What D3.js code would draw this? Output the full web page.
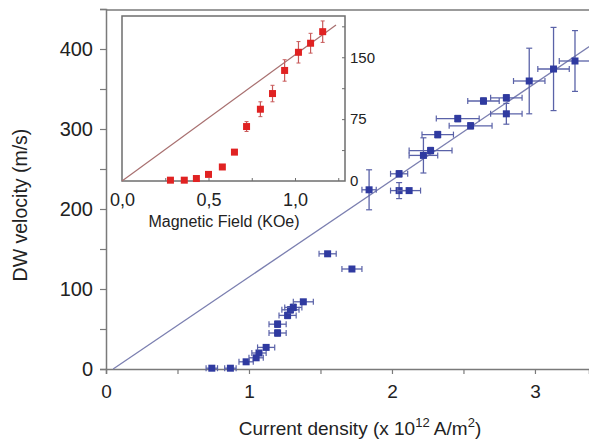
<!DOCTYPE html>
<html>
<head>
<meta charset="utf-8">
<script src="https://cdn.jsdelivr.net/npm/d3@7"></script>
<style>
  body { margin: 0; background: #fff; }
  svg { display: block; font-family: "Liberation Sans", Arial, sans-serif; }
  .tick text { fill: #222; }
</style>
</head>
<body>
<svg id="chart" width="589" height="440"></svg>
<script>
// main data: current density (x1e12 A/m2), velocity (m/s), errors
const mainJ    = [0.74, 0.87, 0.98, 1.05, 1.07, 1.12, 1.20, 1.20, 1.27, 1.29, 1.31, 1.38, 1.55, 1.72,
                  1.84, 2.05, 2.12, 2.05, 2.22, 2.27, 2.32, 2.46, 2.55, 2.64, 2.80, 2.80, 2.96, 3.13, 3.28];
const mainV    = [1, 1, 9, 14, 20, 27, 45, 56, 67, 74, 77, 84, 144, 125,
                  224, 223, 223, 244, 267, 273, 293, 313, 304, 335, 339, 319, 360, 375, 385];
const mainJErr = [0.04, 0.04, 0.05, 0.05, 0.05, 0.06, 0.06, 0.06, 0.06, 0.06, 0.06, 0.07, 0.06, 0.07,
                  0.05, 0.06, 0.08, 0.06, 0.10, 0.15, 0.11, 0.15, 0.15, 0.11, 0.11, 0.11, 0.11, 0.11, 0.11];
const mainVErr = [1, 1, 2, 3, 3, 3, 4, 4, 4, 4, 4, 3, 3, 3,
                  25, 10, 3, 4, 22, 4, 4, 4, 4, 4, 4, 13, 41, 52, 38];
const mainFit  = [[0.05, 0], [3.38, 403]];

// inset data: magnetic field (KOe), velocity (m/s)
const insetB    = [0.28, 0.36, 0.43, 0.50, 0.58, 0.65, 0.72, 0.80, 0.87, 0.94, 1.02, 1.09, 1.16];
const insetV    = [1, 1, 3, 8, 17, 35, 66, 87, 106, 134, 156, 167, 181];
const insetVErr = [0, 0, 0, 0, 0, 0, 6, 9, 10, 13, 13, 12, 13];
const insetFit  = [[0, 0], [1.237, 189]];

const xTicks = [0, 1, 2, 3];
const yTicks = [0, 100, 200, 300, 400];
const insetXTicks = [0, 0.5, 1.0];
const insetYTicks = [0, 75, 150];

const svg = d3.select('#chart');
const axisColor = '#7a7a7a';
const font = 'Liberation Sans, Arial';

const x = d3.scaleLinear().domain([0, 3.378]).range([106, 589]);
const y = d3.scaleLinear().domain([0, 450]).range([369, 9]);

// frame: top border
svg.append('line').attr('x1', 106).attr('x2', 589).attr('y1', 10).attr('y2', 10)
  .attr('stroke', axisColor).attr('stroke-width', 1.5);

// axes lines and ticks (major + minor)
const gx = svg.append('g').attr('transform', 'translate(0,369)')
  .call(d3.axisBottom(x).tickValues(d3.range(0, 3.4, 0.5)).tickSize(5).tickFormat(''));
const gy = svg.append('g').attr('transform', 'translate(106,0)')
  .call(d3.axisLeft(y).tickValues(d3.range(0, 451, 50)).tickSize(6).tickFormat(''));
[gx, gy].forEach(g => {
  g.select('.domain').attr('stroke', axisColor).attr('stroke-width', 1.5);
  g.selectAll('.tick line').attr('stroke', axisColor).attr('stroke-width', 1.2);
});

svg.append('g').attr('transform', 'translate(0,369)')
  .call(d3.axisBottom(x).tickValues(xTicks).tickSize(0).tickPadding(16).tickFormat(d3.format('d')))
  .call(g => g.select('.domain').remove())
  .selectAll('text').attr('font-size', 19).attr('font-family', font);

svg.append('g').attr('transform', 'translate(106,0)')
  .call(d3.axisLeft(y).tickValues(yTicks).tickSize(0).tickPadding(13))
  .call(g => g.select('.domain').remove())
  .selectAll('text').attr('font-size', 20).attr('font-family', font);

// axis titles
svg.append('text').attr('transform', 'translate(27,205) rotate(-90)')
  .attr('text-anchor', 'middle').attr('font-size', 19.5).attr('fill', '#222')
  .text('DW velocity (m/s)');

const xt = svg.append('text').attr('x', 360).attr('y', 435)
  .attr('text-anchor', 'middle').attr('font-size', 19).attr('fill', '#222');
xt.append('tspan').text('Current density (x 10');
xt.append('tspan').attr('font-size', 13).attr('dy', -8).text('12');
xt.append('tspan').attr('dy', 8).text(' A/m');
xt.append('tspan').attr('font-size', 13).attr('dy', -8).text('2');
xt.append('tspan').attr('dy', 8).text(')');

// main fit line
svg.append('line')
  .attr('x1', x(mainFit[0][0])).attr('y1', y(mainFit[0][1]))
  .attr('x2', x(mainFit[1][0])).attr('y2', y(mainFit[1][1]))
  .attr('stroke', '#7b7fb0').attr('stroke-width', 1.3);

// main points with error bars
const blue = '#2f3aa0';
const barColor = '#5a62a8';
const mainData = mainJ.map((j, i) => ({ j, v: mainV[i], ej: mainJErr[i], ev: mainVErr[i] }));
const mg = svg.append('g');
mainData.forEach(d => {
  const g = mg.append('g');
  g.append('line').attr('x1', x(d.j - d.ej)).attr('x2', x(d.j + d.ej))
    .attr('y1', y(d.v)).attr('y2', y(d.v)).attr('stroke', barColor).attr('stroke-width', 1.3);
  [d.j - d.ej, d.j + d.ej].forEach(e => g.append('line')
    .attr('x1', x(e)).attr('x2', x(e)).attr('y1', y(d.v) - 3).attr('y2', y(d.v) + 3)
    .attr('stroke', barColor).attr('stroke-width', 1.2));
  if (d.ev > 3) {
    g.append('line').attr('x1', x(d.j)).attr('x2', x(d.j))
      .attr('y1', y(d.v - d.ev)).attr('y2', y(d.v + d.ev)).attr('stroke', barColor).attr('stroke-width', 1.3);
    [d.v - d.ev, d.v + d.ev].forEach(e => g.append('line')
      .attr('x1', x(d.j) - 3).attr('x2', x(d.j) + 3).attr('y1', y(e)).attr('y2', y(e))
      .attr('stroke', barColor).attr('stroke-width', 1.2));
  }
  g.append('rect').attr('x', x(d.j) - 3.5).attr('y', y(d.v) - 3.5)
    .attr('width', 7).attr('height', 7).attr('fill', blue);
});

// ---- inset ----
const ix = d3.scaleLinear().domain([0, 1.289]).range([122, 345]);
const iy = d3.scaleLinear().domain([0, 200]).range([181, 16]);

svg.append('rect').attr('x', 122).attr('y', 16).attr('width', 223).attr('height', 165)
  .attr('fill', '#fff').attr('stroke', '#6e6e6e').attr('stroke-width', 1.5);

// inside ticks
svg.append('g').attr('transform', 'translate(0,181)')
  .call(d3.axisTop(ix).tickValues(d3.range(0.25, 1.26, 0.25)).tickSize(3).tickFormat(''))
  .call(g => g.select('.domain').remove())
  .call(g => g.selectAll('.tick line').attr('stroke', '#6e6e6e'));
svg.append('g').attr('transform', 'translate(345,0)')
  .call(d3.axisLeft(iy).tickValues(d3.range(37.5, 190, 37.5)).tickSize(3).tickFormat(''))
  .call(g => g.select('.domain').remove())
  .call(g => g.selectAll('.tick line').attr('stroke', '#6e6e6e'));

svg.append('g').attr('transform', 'translate(0,181)')
  .call(d3.axisBottom(ix).tickValues(insetXTicks).tickSize(0).tickPadding(12)
    .tickFormat(d => d3.format('.1f')(d).replace('.', ',')))
  .call(g => g.select('.domain').remove())
  .selectAll('text').attr('font-size', 18).attr('font-family', font);

svg.append('g').attr('transform', 'translate(345,0)')
  .call(d3.axisRight(iy).tickValues(insetYTicks).tickSize(0).tickPadding(5))
  .call(g => g.select('.domain').remove())
  .selectAll('text').attr('font-size', 15).attr('font-family', font);

svg.append('text').attr('x', 224).attr('y', 227).attr('text-anchor', 'middle')
  .attr('font-size', 16).attr('fill', '#222').text('Magnetic Field (KOe)');

svg.append('line')
  .attr('x1', ix(insetFit[0][0])).attr('y1', iy(insetFit[0][1]))
  .attr('x2', ix(insetFit[1][0])).attr('y2', iy(insetFit[1][1]))
  .attr('stroke', '#a87070').attr('stroke-width', 1.2);

const red = '#e02222';
const redBar = '#c85a5a';
const ig = svg.append('g');
insetB.forEach((b, i) => {
  const v = insetV[i], e = insetVErr[i];
  if (e > 0) {
    ig.append('line').attr('x1', ix(b)).attr('x2', ix(b))
      .attr('y1', iy(v - e)).attr('y2', iy(v + e)).attr('stroke', redBar).attr('stroke-width', 1.2);
    [v - e, v + e].forEach(t => ig.append('line')
      .attr('x1', ix(b) - 2).attr('x2', ix(b) + 2).attr('y1', iy(t)).attr('y2', iy(t))
      .attr('stroke', redBar).attr('stroke-width', 1));
  }
  ig.append('rect').attr('x', ix(b) - 3.5).attr('y', iy(v) - 3.5)
    .attr('width', 7).attr('height', 7).attr('fill', red);
});
</script>
</body>
</html>
